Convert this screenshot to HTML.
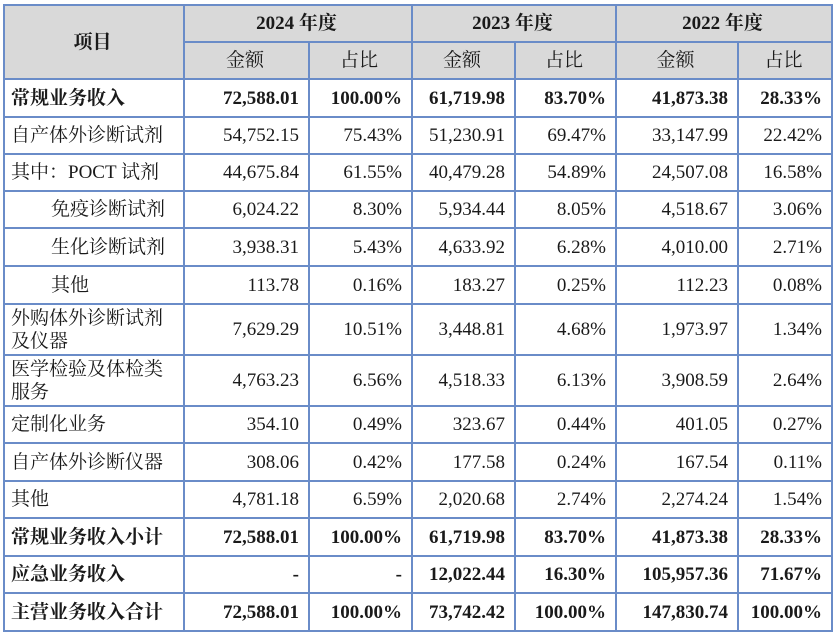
<!DOCTYPE html>
<html><head><meta charset="utf-8"><style>
body{margin:0;background:#fff;width:834px;height:633px;overflow:hidden}
table{position:absolute;left:3px;top:4px;border-collapse:collapse;table-layout:fixed;font-family:"Liberation Serif","Noto Serif CJK SC",serif;font-size:19px;color:#1a1a1a}
td{border:2px solid #6a8cc8;padding:0 9px 0 6px;white-space:nowrap;line-height:23px;overflow:hidden}
.h td{background:#d9d9d9;text-align:center;font-weight:bold}
td.n{text-align:right}
.b td{font-weight:bold}
.i{padding-left:46px}
</style></head><body>
<table>
<colgroup><col style="width:180px"><col style="width:125px"><col style="width:103px"><col style="width:103px"><col style="width:101px"><col style="width:122px"><col style="width:94px"></colgroup>
<tr class="h" style="height:37px"><td rowspan="2">项目</td><td colspan="2">2024 年度</td><td colspan="2">2023 年度</td><td colspan="2">2022 年度</td></tr>
<tr class="h" style="height:37px"><td style="font-weight:normal">金额</td><td style="font-weight:normal">占比</td><td style="font-weight:normal">金额</td><td style="font-weight:normal">占比</td><td style="font-weight:normal">金额</td><td style="font-weight:normal">占比</td></tr>
<tr class="b" style="height:38px"><td>常规业务收入</td><td class="n">72,588.01</td><td class="n">100.00%</td><td class="n">61,719.98</td><td class="n">83.70%</td><td class="n">41,873.38</td><td class="n">28.33%</td></tr>
<tr style="height:37px"><td>自产体外诊断试剂</td><td class="n">54,752.15</td><td class="n">75.43%</td><td class="n">51,230.91</td><td class="n">69.47%</td><td class="n">33,147.99</td><td class="n">22.42%</td></tr>
<tr style="height:37px"><td>其中：POCT 试剂</td><td class="n">44,675.84</td><td class="n">61.55%</td><td class="n">40,479.28</td><td class="n">54.89%</td><td class="n">24,507.08</td><td class="n">16.58%</td></tr>
<tr style="height:37px"><td class="i">免疫诊断试剂</td><td class="n">6,024.22</td><td class="n">8.30%</td><td class="n">5,934.44</td><td class="n">8.05%</td><td class="n">4,518.67</td><td class="n">3.06%</td></tr>
<tr style="height:38px"><td class="i">生化诊断试剂</td><td class="n">3,938.31</td><td class="n">5.43%</td><td class="n">4,633.92</td><td class="n">6.28%</td><td class="n">4,010.00</td><td class="n">2.71%</td></tr>
<tr style="height:38px"><td class="i">其他</td><td class="n">113.78</td><td class="n">0.16%</td><td class="n">183.27</td><td class="n">0.25%</td><td class="n">112.23</td><td class="n">0.08%</td></tr>
<tr style="height:51px"><td>外购体外诊断试剂<br>及仪器</td><td class="n">7,629.29</td><td class="n">10.51%</td><td class="n">3,448.81</td><td class="n">4.68%</td><td class="n">1,973.97</td><td class="n">1.34%</td></tr>
<tr style="height:51px"><td>医学检验及体检类<br>服务</td><td class="n">4,763.23</td><td class="n">6.56%</td><td class="n">4,518.33</td><td class="n">6.13%</td><td class="n">3,908.59</td><td class="n">2.64%</td></tr>
<tr style="height:37px"><td>定制化业务</td><td class="n">354.10</td><td class="n">0.49%</td><td class="n">323.67</td><td class="n">0.44%</td><td class="n">401.05</td><td class="n">0.27%</td></tr>
<tr style="height:38px"><td>自产体外诊断仪器</td><td class="n">308.06</td><td class="n">0.42%</td><td class="n">177.58</td><td class="n">0.24%</td><td class="n">167.54</td><td class="n">0.11%</td></tr>
<tr style="height:37px"><td>其他</td><td class="n">4,781.18</td><td class="n">6.59%</td><td class="n">2,020.68</td><td class="n">2.74%</td><td class="n">2,274.24</td><td class="n">1.54%</td></tr>
<tr class="b" style="height:38px"><td>常规业务收入小计</td><td class="n">72,588.01</td><td class="n">100.00%</td><td class="n">61,719.98</td><td class="n">83.70%</td><td class="n">41,873.38</td><td class="n">28.33%</td></tr>
<tr class="b" style="height:37px"><td>应急业务收入</td><td class="n">-</td><td class="n">-</td><td class="n">12,022.44</td><td class="n">16.30%</td><td class="n">105,957.36</td><td class="n">71.67%</td></tr>
<tr class="b" style="height:38px"><td>主营业务收入合计</td><td class="n">72,588.01</td><td class="n">100.00%</td><td class="n">73,742.42</td><td class="n">100.00%</td><td class="n">147,830.74</td><td class="n">100.00%</td></tr>
</table>
</body></html>
